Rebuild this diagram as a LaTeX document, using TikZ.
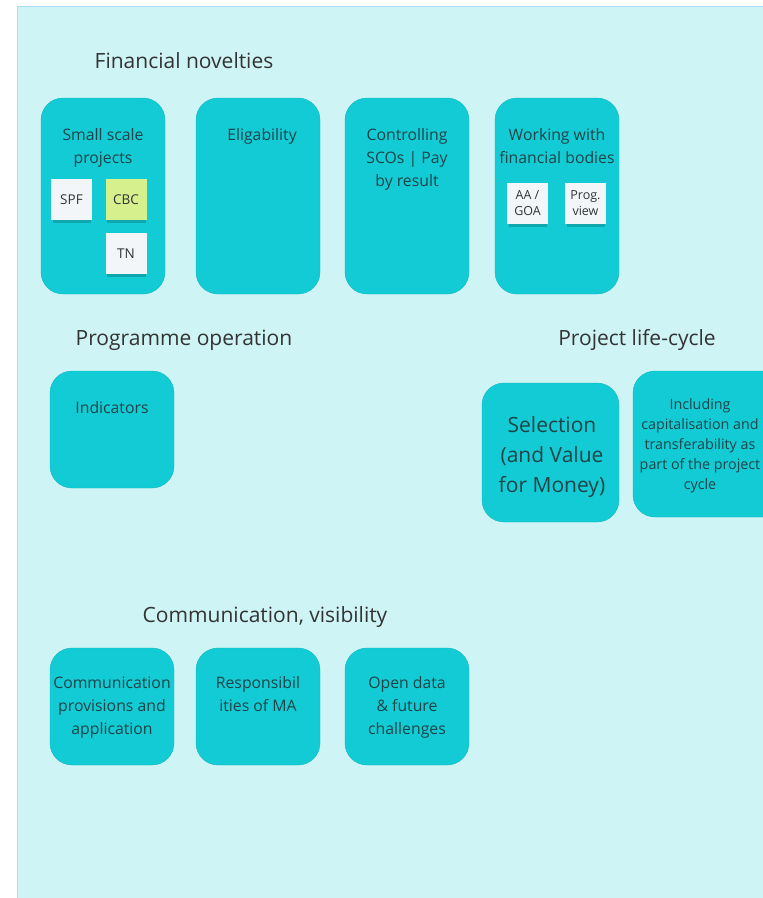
\documentclass[tikz,border=0pt]{standalone}
\usepackage{fontspec}
\setmainfont{Open Sans}
\definecolor{bgc}{HTML}{CFF4F5}
\definecolor{bgline}{HTML}{A8DDF2}
\definecolor{boxc}{HTML}{13CBD4}
\definecolor{boxtxt}{HTML}{1E4448}
\definecolor{ttl}{HTML}{333333}
\definecolor{stickw}{HTML}{F3F6F9}
\definecolor{stickg}{HTML}{D5F08C}
\tikzset{
  card/.style={draw=boxc!85!black!60!boxc, line width=0.4pt, fill=boxc, rounded corners=22pt, inner sep=0pt},
  cardtxt/.style={text=boxtxt, font=\fontsize{15.8}{23}\selectfont, align=center, anchor=base, inner sep=0pt},
  title/.style={text=ttl, font=\fontsize{21}{24}\selectfont, anchor=base, inner sep=0pt},
  sticky/.style={fill=stickw, inner sep=0pt, minimum width=41pt, minimum height=41pt, text=ttl,
     font=\fontsize{13.5}{16}\selectfont, align=center},
  shadowc/.style={fill=black, opacity=0.18}
}
\begin{document}
\begin{tikzpicture}[x=1pt,y=-1pt]
\useasboundingbox (0,0) rectangle (763,898);
% background board
\fill[bgc] (17,6) rectangle (780,910);
\draw[bgline, line width=1pt] (780,6) -- (17,6) -- (17,910);

% titles
\node[title] (t1) at (184,68) {Financial novelties};
\node[title] (t2) at (184,345) {Programme operation};
\node[title] (t3) at (637,345) {Project life-cycle};
\node[title] (t4) at (265,622) {Communication, visibility};

% Financial novelties cards
\path[card] (41,98) rectangle (165,294) coordinate (c1);
\path[card] (196,98) rectangle (320,294) coordinate (c2);
\path[card] (345,98) rectangle (469,294) coordinate (c3);
\path[card] (495,98) rectangle (619,294) coordinate (c4);
\node[cardtxt] (l1) at (103,163) {Small scale\\projects};
\node[cardtxt] (l2) at (262,140) {Eligability};
\node[cardtxt] (l3) at (407,186) {Controlling\\SCOs | Pay\\by result};
\node[cardtxt] (l4) at (557,163) {Working with\\financial bodies};

% sticky notes
\fill[shadowc] (53,219) rectangle (91,222.5);
\node[sticky] (spf) at (71.5,199.5) {SPF};
\fill[shadowc] (107,219) rectangle (146,222.5);
\node[sticky, fill=stickg] (cbc) at (126,199.5) {CBC};
\fill[shadowc] (107,273) rectangle (146,276.5);
\node[sticky] (tn) at (126,253.5) {TN};
\fill[shadowc] (509,223) rectangle (547,226.5);
\node[sticky, font=\fontsize{12.5}{16}\selectfont] (aa) at (527.5,203.5) {AA /\\GOA};
\fill[shadowc] (567,223) rectangle (605,226.5);
\node[sticky, font=\fontsize{12.5}{16}\selectfont] (prog) at (585.5,203.5) {Prog.\\view};

% Programme operation
\path[card] (50,371) rectangle (174,488);
\node[cardtxt] (l5) at (112,413) {Indicators};

% Project life-cycle
\path[card] (482,383) rectangle (619,522);
\node[cardtxt, font=\fontsize{21}{30}\selectfont] (l6) at (552,492) {Selection\\(and Value\\for Money)};
\path[card] (633,371) rectangle (790,517);
\node[cardtxt, font=\fontsize{14.3}{19.8}\selectfont] (l7) at (700,489) {Including\\capitalisation and\\transferability as\\part of the project\\cycle};

% Communication cards
\path[card] (50,648) rectangle (174,765);
\path[card] (196,648) rectangle (320,765);
\path[card] (345,648) rectangle (469,765);
\node[cardtxt] (l8) at (112,734) {Communication\\provisions and\\application};
\node[cardtxt] (l9) at (258,711) {Responsibil\\ities of MA};
\node[cardtxt] (l10) at (407,734) {Open data\\\& future\\challenges};
\end{tikzpicture}
\end{document}
